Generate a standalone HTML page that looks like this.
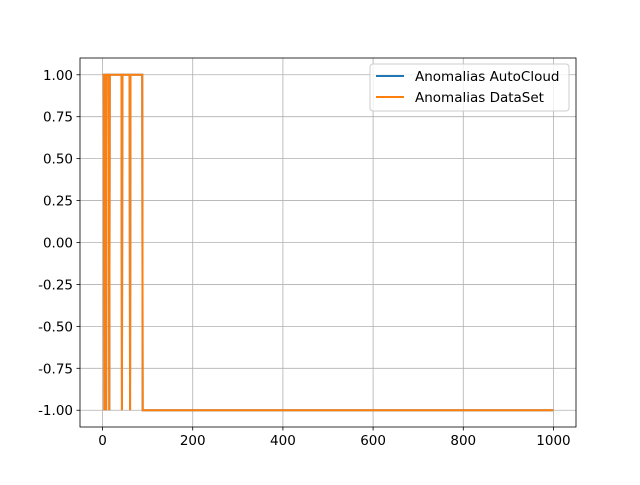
<!DOCTYPE html>
<html><head><meta charset="utf-8"><style>
body{margin:0;background:#fff}
svg text{font-family:"DejaVu Sans","Liberation Sans",sans-serif;font-size:13.5px;fill:#000}
</style></head><body>
<svg id="chart" width="640" height="480" xmlns="http://www.w3.org/2000/svg">
<rect width="640" height="480" fill="#fff"/>
<g id="grid"></g><g id="series"></g><g id="axes"></g>
<g id="legend">
<rect x="370" y="64" width="199" height="47" rx="3" fill="#fff" fill-opacity="0.8" stroke="#ccc"/>
<line x1="376" y1="76" x2="404" y2="76" stroke="#1f77b4" stroke-width="2"/>
<text x="415" y="81">Anomalias AutoCloud</text>
<line x1="376" y1="97" x2="404" y2="97" stroke="#ff7f0e" stroke-width="2"/>
<text x="415" y="102">Anomalias DataSet</text>
</g>
</svg>
<script>
const xTicks=[0,200,400,600,800,1000];
const yTicks=[-1.00,-0.75,-0.50,-0.25,0.00,0.25,0.50,0.75,1.00];
const seriesX=[0,3,4,5,7,8,9,14,15,16,42,43,44,60,61,62,88,89,1000];
const autoCloudY=[1,1,-1,1,1,-1,1,1,-1,1,1,-1,1,1,-1,1,1,-1,-1];
const dataSetY=[1,1,-1,1,1,-1,1,1,-1,1,1,-1,1,1,-1,1,1,-1,-1];
const L=80,R=576,T=58,B=427,xmin=-50,xmax=1050,ymin=-1.1,ymax=1.1;
const sx=v=>L+(v-xmin)/(xmax-xmin)*(R-L);
const sy=v=>B-(v-ymin)/(ymax-ymin)*(B-T);
const NS="http://www.w3.org/2000/svg";
function mk(t,a,p){const e=document.createElementNS(NS,t);for(const k in a)e.setAttribute(k,a[k]);p.appendChild(e);return e;}
const g=document.getElementById('grid'),ax=document.getElementById('axes'),s=document.getElementById('series');
xTicks.forEach(v=>{const x=sx(v);
const gl=mk('line',{x1:x,x2:x,y1:T,y2:B,stroke:'#b0b0b0','stroke-width':0.8},g);


mk('line',{x1:x,x2:x,y1:B,y2:B+3.5,stroke:'#000','stroke-width':0.8},ax);
const t=mk('text',{x:x,y:B+18,'text-anchor':'middle'},ax);t.textContent=v;

});
yTicks.forEach(v=>{const y=sy(v);
const gl=mk('line',{x1:L,x2:R,y1:y,y2:y,stroke:'#b0b0b0','stroke-width':0.8},g);


mk('line',{x1:L-3.5,x2:L,y1:y,y2:y,stroke:'#000','stroke-width':0.8},ax);
const t=mk('text',{x:L-7,y:y+5,'text-anchor':'end'},ax);t.textContent=v.toFixed(2);

});
const f=mk('rect',{x:L,y:T,width:R-L,height:B-T,fill:'none',stroke:'#000','stroke-width':0.8},ax);


function line(ys,c,name){const p=mk('polyline',{points:seriesX.map((x,i)=>sx(x)+','+sy(ys[i])).join(' '),fill:'none',stroke:c,'stroke-width':2},s);

}
line(autoCloudY,'#1f77b4','autocloud-line');
line(dataSetY,'#ff7f0e','dataset-line');
</script>
</body></html>
